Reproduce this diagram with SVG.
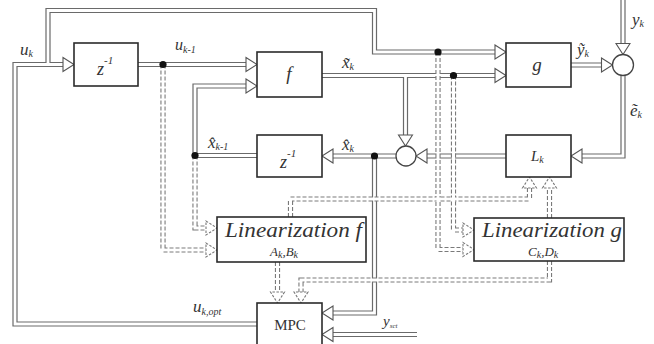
<svg xmlns="http://www.w3.org/2000/svg" xmlns:xlink="http://www.w3.org/1999/xlink" width="654" height="344" viewBox="0 0 654 344" font-family="'Liberation Serif', 'DejaVu Serif', serif">
<style>
.box{fill:#fff;stroke:#2b2b2b;stroke-width:1.6}
.sum{fill:#fff;stroke:#444;stroke-width:1.3}
.wo{fill:none;stroke:#6a6a6a;stroke-width:5.2;stroke-linejoin:miter}
.wi{fill:none;stroke:#fff;stroke-width:2.8;stroke-linejoin:miter}
.do{fill:none;stroke:#7a7a7a;stroke-width:5.2;stroke-dasharray:4 2}
.di{fill:none;stroke:#fff;stroke-width:3}
.ah{fill:#fff;stroke:#555;stroke-width:1.1;stroke-linejoin:miter}
.dah{fill:#fff;stroke:#777;stroke-width:1.1;stroke-dasharray:2.5 1.5}
.dot{fill:#111}
text{font-family:"Liberation Serif","DejaVu Serif",serif;fill:#333}
.it{font-style:italic}
.lin{font-style:italic;font-size:20px}
.sub{font-size:10px}
</style>
<defs>
<path id="ah" d="M-11,-7 L0,0 L-11,7 Z"/>
<path id="w1" d="M257,324 H15 V64.5 H68"/>
<path id="w2" d="M48,64.5 V10.5 H374.5 V52 H500"/>
<path id="w3" d="M138,64.5 H251"/>
<path id="w4" d="M257,155.5 H195 V86 H251"/>
<path id="w5" d="M322,75.5 H500"/>
<path id="w6" d="M405.5,75.5 V140"/>
<path id="w7" d="M506,156 H422"/>
<path id="w8" d="M396,156 H328"/>
<path id="w9" d="M374.5,156 V313 H328"/>
<path id="w10" d="M417,334.5 H328"/>
<path id="w11" d="M571,65 H606"/>
<path id="w12" d="M623,0 V48"/>
<path id="w13" d="M623,75 V156 H577"/>
<path id="d1" d="M163,64.5 V250 H211"/>
<path id="d2" d="M195,155.5 V228 H211"/>
<path id="d3" d="M438,52 V249.5 H468"/>
<path id="d4" d="M453.5,75.5 V230 H468"/>
<path id="d5" d="M290.5,217 V199 H529.5 V183"/>
<path id="d6" d="M549.5,218 V183"/>
<path id="d7" d="M277.5,262 V297"/>
<path id="d8" d="M549.5,261 V280 H301 V297"/>
</defs>

<g id="connectors">
  <g class="wo">
    <use xlink:href="#w1"/><use xlink:href="#w2"/><use xlink:href="#w3"/><use xlink:href="#w4"/>
    <use xlink:href="#w5"/><use xlink:href="#w6"/><use xlink:href="#w7"/><use xlink:href="#w8"/>
    <use xlink:href="#w9"/><use xlink:href="#w10"/><use xlink:href="#w11"/><use xlink:href="#w12"/>
    <use xlink:href="#w13"/>
  </g>
  <g class="wi">
    <use xlink:href="#w1"/><use xlink:href="#w2"/><use xlink:href="#w3"/><use xlink:href="#w4"/>
    <use xlink:href="#w5"/><use xlink:href="#w6"/><use xlink:href="#w7"/><use xlink:href="#w8"/>
    <use xlink:href="#w9"/><use xlink:href="#w10"/><use xlink:href="#w11"/><use xlink:href="#w12"/>
    <use xlink:href="#w13"/>
  </g>
  <g class="do">
    <use xlink:href="#d1"/><use xlink:href="#d2"/><use xlink:href="#d3"/><use xlink:href="#d4"/>
    <use xlink:href="#d5"/><use xlink:href="#d6"/><use xlink:href="#d7"/><use xlink:href="#d8"/>
  </g>
  <g class="di">
    <use xlink:href="#d1"/><use xlink:href="#d2"/><use xlink:href="#d3"/><use xlink:href="#d4"/>
    <use xlink:href="#d5"/><use xlink:href="#d6"/><use xlink:href="#d7"/><use xlink:href="#d8"/>
  </g>
  <g class="ah">
    <use xlink:href="#ah" transform="translate(74,64.5)"/>
    <use xlink:href="#ah" transform="translate(257,64.5)"/>
    <use xlink:href="#ah" transform="translate(257,86)"/>
    <use xlink:href="#ah" transform="translate(506,52)"/>
    <use xlink:href="#ah" transform="translate(506,75.5)"/>
    <use xlink:href="#ah" transform="translate(405.5,146) rotate(90)"/>
    <use xlink:href="#ah" transform="translate(416,156) rotate(180)"/>
    <use xlink:href="#ah" transform="translate(322,156) rotate(180)"/>
    <use xlink:href="#ah" transform="translate(322,313) rotate(180)"/>
    <use xlink:href="#ah" transform="translate(322,334.5) rotate(180)"/>
    <use xlink:href="#ah" transform="translate(612.5,65)"/>
    <use xlink:href="#ah" transform="translate(623,54.5) rotate(90)"/>
    <use xlink:href="#ah" transform="translate(571,156) rotate(180)"/>
  </g>
  <g class="dah">
    <use xlink:href="#ah" transform="translate(217,250)"/>
    <use xlink:href="#ah" transform="translate(217,228)"/>
    <use xlink:href="#ah" transform="translate(474,249.5)"/>
    <use xlink:href="#ah" transform="translate(474,230)"/>
    <use xlink:href="#ah" transform="translate(529.5,177) rotate(-90)"/>
    <use xlink:href="#ah" transform="translate(549.5,177) rotate(-90)"/>
    <use xlink:href="#ah" transform="translate(277.5,303) rotate(90)"/>
    <use xlink:href="#ah" transform="translate(301,303) rotate(90)"/>
  </g>
  <g class="dot">
    <circle cx="163" cy="64.5" r="3.6"/>
    <circle cx="195" cy="155.5" r="3.6"/>
    <circle cx="438" cy="52" r="3.6"/>
    <circle cx="453.5" cy="75.5" r="3.6"/>
    <circle cx="374.5" cy="156" r="3.6"/>
  </g>
  <g id="labels">
    <text x="20" y="55" class="it" font-size="17">u<tspan class="sub" dy="2">k</tspan></text>
    <text x="175" y="50" class="it" font-size="16">u<tspan class="sub" dy="3">k-1</tspan></text>
    <text x="342" y="68" class="it" font-size="17">x̃<tspan class="sub" dy="2">k</tspan></text>
    <text x="208" y="148" class="it" font-size="17">x̂<tspan class="sub" dy="2">k-1</tspan></text>
    <text x="342" y="150" class="it" font-size="17">x̂<tspan class="sub" dy="2">k</tspan></text>
    <text x="577" y="55" class="it" font-size="17">ỹ<tspan class="sub" dy="2">k</tspan></text>
    <text x="632" y="25" class="it" font-size="17">y<tspan class="sub" dy="2">k</tspan></text>
    <text x="630" y="116" class="it" font-size="17">ẽ<tspan class="sub" dy="2">k</tspan></text>
    <text x="193" y="312" class="it" font-size="17">u<tspan class="sub" dy="3">k,opt</tspan></text>
    <text x="383" y="326" class="it" font-size="15">y<tspan font-size="7" dy="2">sct</tspan></text>
  </g>
</g>

<g id="z1">
  <rect class="box" x="74" y="43" width="64" height="43"/>
  <text x="97" y="75" class="it" font-size="18">z<tspan font-size="11" dy="-11">-1</tspan></text>
</g>
<g id="f">
  <rect class="box" x="257" y="52" width="65" height="45"/>
  <text x="289" y="80" class="it" font-size="19" text-anchor="middle">f</text>
</g>
<g id="z2">
  <rect class="box" x="257" y="135" width="65" height="42"/>
  <text x="280" y="168" class="it" font-size="18">z<tspan font-size="11" dy="-11">-1</tspan></text>
</g>
<g id="g">
  <rect class="box" x="506" y="43" width="65" height="44"/>
  <text x="537" y="71" class="it" font-size="19" text-anchor="middle">g</text>
</g>
<g id="Lk">
  <rect class="box" x="506" y="135" width="65" height="42"/>
  <text x="531" y="161" class="it" font-size="15">L<tspan class="sub" dy="2">k</tspan></text>
</g>
<g id="sum1">
  <circle class="sum" cx="406" cy="156" r="10"/>
</g>
<g id="sum2">
  <circle class="sum" cx="623" cy="65" r="10.5"/>
</g>
<g id="linf">
  <rect class="box" x="217" y="217" width="149" height="45"/>
  <text x="225" y="237" class="lin" textLength="137" lengthAdjust="spacingAndGlyphs">Linearization f</text>
  <text x="270" y="256" class="it" font-size="13">A<tspan class="sub" dy="2">k</tspan><tspan dy="-2">,B</tspan><tspan class="sub" dy="2">k</tspan></text>
</g>
<g id="ling">
  <rect class="box" x="474" y="218" width="150" height="43"/>
  <text x="482" y="237" class="lin" textLength="140" lengthAdjust="spacingAndGlyphs">Linearization g</text>
  <text x="528" y="256" class="it" font-size="13">C<tspan class="sub" dy="2">k</tspan><tspan dy="-2">,D</tspan><tspan class="sub" dy="2">k</tspan></text>
</g>
<g id="mpc">
  <rect class="box" x="257" y="303" width="65" height="50"/>
  <text x="290" y="330" font-size="15" text-anchor="middle">MPC</text>
</g>
</svg>
